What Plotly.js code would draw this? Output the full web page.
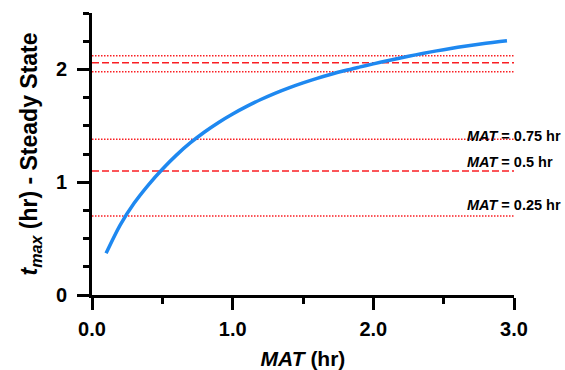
<!DOCTYPE html>
<html>
<head>
<meta charset="utf-8">
<script src="https://cdn.plot.ly/plotly-3.0.1.min.js"></script>
<style>html,body{margin:0;padding:0;background:#fff;}#chart{width:565px;height:370px;}</style>
</head>
<body>
<div id="chart"></div>
<script>
// MAT (hr) and steady-state tmax (hr) curve
var matValues = [0.1, 0.2, 0.3, 0.4, 0.5, 0.6, 0.7, 0.8, 0.9, 1.0, 1.1, 1.2, 1.3, 1.4, 1.5, 1.6, 1.7, 1.8, 1.9, 2.0, 2.1, 2.2, 2.3, 2.4, 2.5, 2.6, 2.7, 2.8, 2.9, 2.95];
var tmaxValues = [0.37, 0.62, 0.815, 0.975, 1.115, 1.24, 1.35, 1.445, 1.53, 1.605, 1.672, 1.733, 1.788, 1.837, 1.881, 1.921, 1.957, 1.99, 2.02, 2.049, 2.077, 2.104, 2.129, 2.153, 2.175, 2.196, 2.215, 2.232, 2.247, 2.254];

// Reference levels (tmax, hr) and their line types
var refLevels = [0.70, 1.10, 1.38, 1.98, 2.06, 2.12];
var refTypes  = ['dot', 'dash', 'dot', 'dot', 'dash', 'dot'];

// Labels for MAT reference lines
var labelMAT = ['0.75', '0.5', '0.25'];

var xTickVals = [0, 1, 2, 3];
var xTickText = ['0.0', '1.0', '2.0', '3.0'];
var yTickVals = [0, 1, 2];
var yTickText = ['0', '1', '2'];

var FONT = 'Arial, "Liberation Sans", sans-serif';
var RED = 'rgb(250,30,35)';

var traces = [];
refLevels.forEach(function (lv, i) {
  traces.push({
    x: [0, 3], y: [lv, lv], mode: 'lines', hoverinfo: 'skip',
    line: {color: RED, width: 1.5, dash: refTypes[i] === 'dash' ? '7px,3px' : '1.5px,1.5px'}
  });
});
traces.push({
  x: matValues, y: tmaxValues, mode: 'lines',
  line: {color: 'rgb(30,136,240)', width: 3.5, shape: 'spline', smoothing: 0.8}
});

var labelY = [1.41, 1.176, 0.794];
var annotations = labelMAT.map(function (m, i) {
  return {
    x: 2.65, y: labelY[i], xref: 'x', yref: 'y', xanchor: 'left', yanchor: 'middle',
    text: '<b><i>MAT</i> = ' + m + ' hr</b>', showarrow: false,
    font: {family: FONT, size: 14.5, color: '#000'}
  };
});

var layout = {
  width: 565, height: 370,
  margin: {l: 92, r: 51, t: 13, b: 75},
  paper_bgcolor: '#fff', plot_bgcolor: '#fff',
  showlegend: false,
  font: {family: FONT, color: '#000'},
  xaxis: {
    range: [0, 3], showgrid: false, zeroline: false,
    showline: true, linecolor: '#000', linewidth: 3,
    ticks: 'outside', ticklen: 12, tickwidth: 3, tickcolor: '#000',
    tickvals: xTickVals, ticktext: xTickText,
    tickfont: {family: FONT, size: 20, color: '#000', weight: 'bold'},
    ticklabelstandoff: 2,
    minor: {dtick: 0.5, tick0: 0, ticks: 'outside', ticklen: 6, tickwidth: 3, tickcolor: '#000', showgrid: false},
    title: {text: '<b><i>MAT</i> (hr)</b>', font: {family: FONT, size: 21, color: '#000'}, standoff: 14}
  },
  yaxis: {
    range: [0, 2.5], showgrid: false, zeroline: false,
    showline: true, linecolor: '#000', linewidth: 3,
    ticks: 'outside', ticklen: 12, tickwidth: 3, tickcolor: '#000',
    tickvals: yTickVals, ticktext: yTickText,
    tickfont: {family: FONT, size: 20, color: '#000', weight: 'bold'},
    ticklabelstandoff: 6,
    minor: {dtick: 0.25, tick0: 0, ticks: 'outside', ticklen: 6, tickwidth: 3, tickcolor: '#000', showgrid: false},
    title: {text: '<b><i>t</i><sub><i>max</i></sub> (hr) - Steady State</b>', font: {family: FONT, size: 23, color: '#000'}, standoff: 12}
  },
  annotations: annotations
};

Plotly.newPlot('chart', traces, layout, {displayModeBar: false, staticPlot: true});
</script>
</body>
</html>
